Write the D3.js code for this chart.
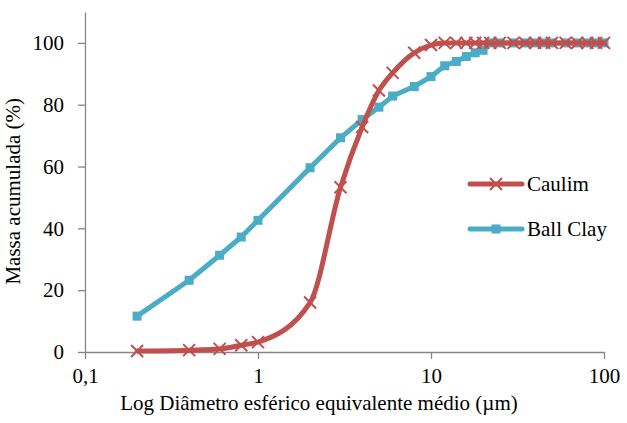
<!DOCTYPE html>
<html lang="pt">
  <head>
    <meta charset="utf-8" />
    <title>Massa acumulada</title>
    <script src="https://d3js.org/d3.v7.min.js"></script>
    <style>
      body {
        margin: 0;
        background-color: #ffffff;
      }
    </style>
  </head>

  <body>
    <div id="chart"></div>

    <script>
      // diameters (µm)
      const diam = [0.2, 0.4, 0.6, 0.8, 1, 2, 3, 4, 5, 6, 8, 10, 12, 14, 16, 18, 20,
        22, 25, 30, 35, 40, 45, 50, 60, 70, 80, 90, 100];
      const caulim = [0.3, 0.6, 1.0, 2.2, 3.2, 16, 53.3, 72.8, 84.6, 90.3, 96.8, 99.3, 100, 100, 100, 100, 100,
        100, 100, 100, 100, 100, 100, 100, 100, 100, 100, 100, 100];
      const ballClay = [11.6, 23.2, 31.3, 37.2, 42.6, 59.6, 69.3, 75.2, 79.2, 82.8, 85.9, 89.1, 92.6, 94, 95.6, 96.8, 97.6,
        100, 100, 100, 100, 100, 100, 100, 100, 100, 100, 100, 100];
      const xTicks = [0.1, 1, 10, 100];
      const yTicks = [0, 20, 40, 60, 80, 100];

      const FONT = "'Liberation Serif', 'Times New Roman', 'DejaVu Serif', serif";

      const margin = { top: 12, right: 23, bottom: 71, left: 85 },
        width = 627 - margin.left - margin.right,
        height = 423 - margin.top - margin.bottom;

      const svg = d3
        .select("#chart")
        .append("svg")
        .attr("width", 627)
        .attr("height", 423)
        .append("g")
        .attr("transform", `translate(${margin.left},${margin.top})`);

      const x = d3.scaleLog().domain([0.1, 100]).range([0, 519]);
      const y = d3.scaleLinear().domain([0, 110]).range([height, 0]);

      // x axis
      const xAxis = svg
        .append("g")
        .attr("transform", `translate(0,${height})`)
        .call(
          d3.axisBottom(x)
            .tickValues(xTicks)
            .tickSize(7)
            .tickSizeOuter(0)
            .tickFormat((d) => String(d).replace(".", ","))
        );
      xAxis.attr("font-family", null);
      xAxis.select(".domain").attr("stroke", "#868686").attr("stroke-width", 1.3);
      xAxis.selectAll(".tick line").attr("stroke", "#868686").attr("stroke-width", 1.3);
      xAxis.selectAll(".tick text")
        .style("font-family", FONT)
        .style("font-size", "21px")
        .attr("dy", "1.0em");

      // y axis
      const yAxis = svg
        .append("g")
        .call(d3.axisLeft(y).tickValues(yTicks).tickSize(7).tickSizeOuter(0).tickPadding(14));
      yAxis.attr("font-family", null);
      yAxis.select(".domain").attr("stroke", "#868686").attr("stroke-width", 1.3);
      yAxis.selectAll(".tick line").attr("stroke", "#868686").attr("stroke-width", 1.3);
      yAxis.selectAll(".tick text").style("font-family", FONT).style("font-size", "21px");

      // axis titles
      svg
        .append("text")
        .attr("x", 234)
        .attr("y", height + 58)
        .attr("text-anchor", "middle")
        .style("font-family", FONT)
        .style("font-size", "21px")
        .text("Log Diâmetro esférico equivalente médio (µm)");

      svg
        .append("text")
        .attr("transform", `translate(-65,${y(52)}) rotate(-90)`)
        .attr("text-anchor", "middle")
        .style("font-family", FONT)
        .style("font-size", "21px")
        .text("Massa acumulada (%)");

      const red = "#C0504D",
        blue = "#4BACC6";

      const blueData = diam.map((d, i) => [d, ballClay[i]]);
      const redData = diam.map((d, i) => [d, caulim[i]]);

      // Ball Clay (straight segments)
      svg
        .append("path")
        .datum(blueData)
        .attr("fill", "none")
        .attr("stroke", blue)
        .attr("stroke-width", 5)
        .attr("stroke-linejoin", "round")
        .attr("d", d3.line().x((d) => x(d[0])).y((d) => y(d[1])));

      svg
        .selectAll(".sq")
        .data(blueData)
        .enter()
        .append("rect")
        .attr("x", (d) => x(d[0]) - 4.5)
        .attr("y", (d) => y(d[1]) - 4.5)
        .attr("width", 9)
        .attr("height", 9)
        .attr("fill", blue);

      // Caulim (smoothed)
      svg
        .append("path")
        .datum(redData)
        .attr("fill", "none")
        .attr("stroke", red)
        .attr("stroke-width", 5)
        .attr("stroke-linecap", "round")
        .attr("d", d3.line().curve(d3.curveMonotoneX).x((d) => x(d[0])).y((d) => y(d[1])));

      const cross = (g, cx, cy) => {
        g.append("path")
          .attr("d", `M${cx - 6},${cy - 6}L${cx + 6},${cy + 6}M${cx - 6},${cy + 6}L${cx + 6},${cy - 6}`)
          .attr("stroke", red)
          .attr("stroke-width", 2)
          .attr("fill", "none");
      };
      const marks = svg.append("g");
      redData.forEach((d) => cross(marks, x(d[0]), y(d[1])));

      // legend
      const leg = svg.append("g").attr("transform", "translate(385,0)");
      leg.append("line")
        .attr("x1", 0).attr("x2", 52).attr("y1", 172).attr("y2", 172)
        .attr("stroke", red).attr("stroke-width", 5).attr("stroke-linecap", "round");
      cross(leg, 26, 172);
      leg.append("text").attr("x", 57).attr("y", 179)
        .style("font-family", FONT).style("font-size", "21px").text("Caulim");

      leg.append("line")
        .attr("x1", 0).attr("x2", 52).attr("y1", 217).attr("y2", 217)
        .attr("stroke", blue).attr("stroke-width", 5).attr("stroke-linecap", "round");
      leg.append("rect").attr("x", 21.5).attr("y", 212.5).attr("width", 9).attr("height", 9).attr("fill", blue);
      leg.append("text").attr("x", 57).attr("y", 224)
        .style("font-family", FONT).style("font-size", "21px").text("Ball Clay");
    </script>
  </body>
</html>
